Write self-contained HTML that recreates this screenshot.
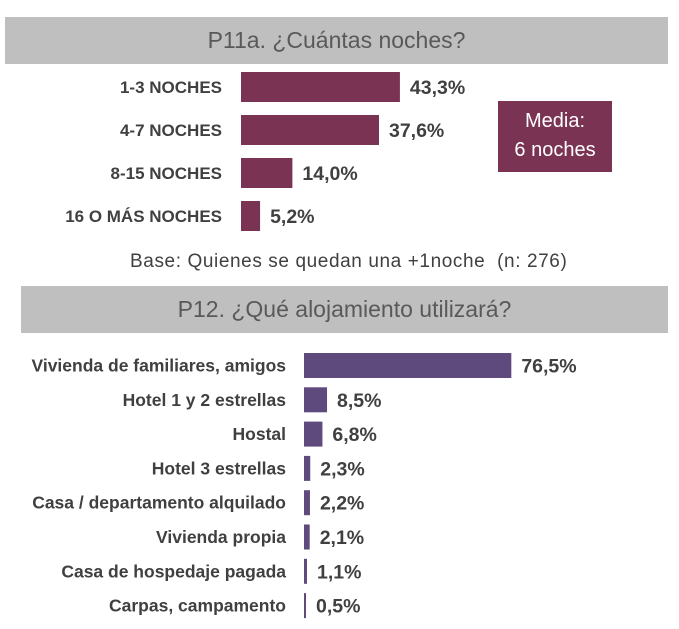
<!DOCTYPE html>
<html><head><meta charset="utf-8"><style>
body{margin:0;width:679px;height:629px;background:#fff;position:relative;overflow:hidden;font-family:"Liberation Sans",sans-serif;color:#404040}
.hdr{position:absolute;background:#bfbfbf;color:#595959;font-size:23px;text-align:center}
.t{position:absolute;white-space:nowrap}
</style></head><body>
<div class="hdr" style="left:5px;top:17px;width:663px;height:47px;line-height:47px">P11a. ¿Cuántas noches?</div>
<div class="hdr" style="left:21px;top:286px;width:647px;height:47px;line-height:47px">P12. ¿Qué alojamiento utilizará?</div>
<div class="t" style="left:498px;top:101px;width:114px;height:71px;background:#7a3353;color:#fff;font-size:20px;text-align:center;line-height:29px;padding-top:6px;box-sizing:border-box">Media:<br>6 noches</div>
<div class="t" style="left:130px;top:251px;font-size:19px;letter-spacing:0.6px;color:#404040">Base: Quienes se quedan una +1noche&nbsp; (n: 276)</div>
<svg id="c" width="679" height="629" style="position:absolute;left:0;top:0"></svg>
<script>
const cats1=["1-3 NOCHES","4-7 NOCHES","8-15 NOCHES","16 O MÁS NOCHES"];
const vals1=[43.3,37.6,14.0,5.2];
const cats2=["Vivienda de familiares, amigos","Hotel 1 y 2 estrellas","Hostal","Hotel 3 estrellas","Casa / departamento alquilado","Vivienda propia","Casa de hospedaje pagada","Carpas, campamento"];
const vals2=[76.5,8.5,6.8,2.3,2.2,2.1,1.1,0.5];
const svg=document.getElementById('c');
const NS="http://www.w3.org/2000/svg";
function mk(t,a){const e=document.createElementNS(NS,t);for(const k in a)e.setAttribute(k,a[k]);svg.appendChild(e);return e;}
function fmt(v){return v.toFixed(1).replace('.',',')+'%';}
function chart(cats,vals,x0,scale,y0,step,h,color,labX,fs,name){
  const x=v=>v*scale;
  cats.forEach((c,i)=>{
    const y=y0+i*step;
    const r=mk('rect',{x:x0,y:y,width:Math.max(x(vals[i]),2),height:h,fill:color});
    
    
    const l=mk('text',{x:labX,y:y+h/2+6,'text-anchor':'end','font-size':fs,'font-weight':'bold',fill:'#404040'});
    l.textContent=c;
    
    
    const v=mk('text',{x:x0+Math.max(x(vals[i]),2)+10,y:y+h/2+7,'font-size':19.5,'font-weight':'bold',fill:'#404040'});
    v.textContent=fmt(vals[i]);
    
    
  });
}
chart(cats1,vals1,241,3.67,72,43,30,'#7a3353',222,17,'nights');
chart(cats2,vals2,304,2.71,353,34.3,25,'#5f4a7e',286,17.5,'lodging');
</script>
</body></html>
